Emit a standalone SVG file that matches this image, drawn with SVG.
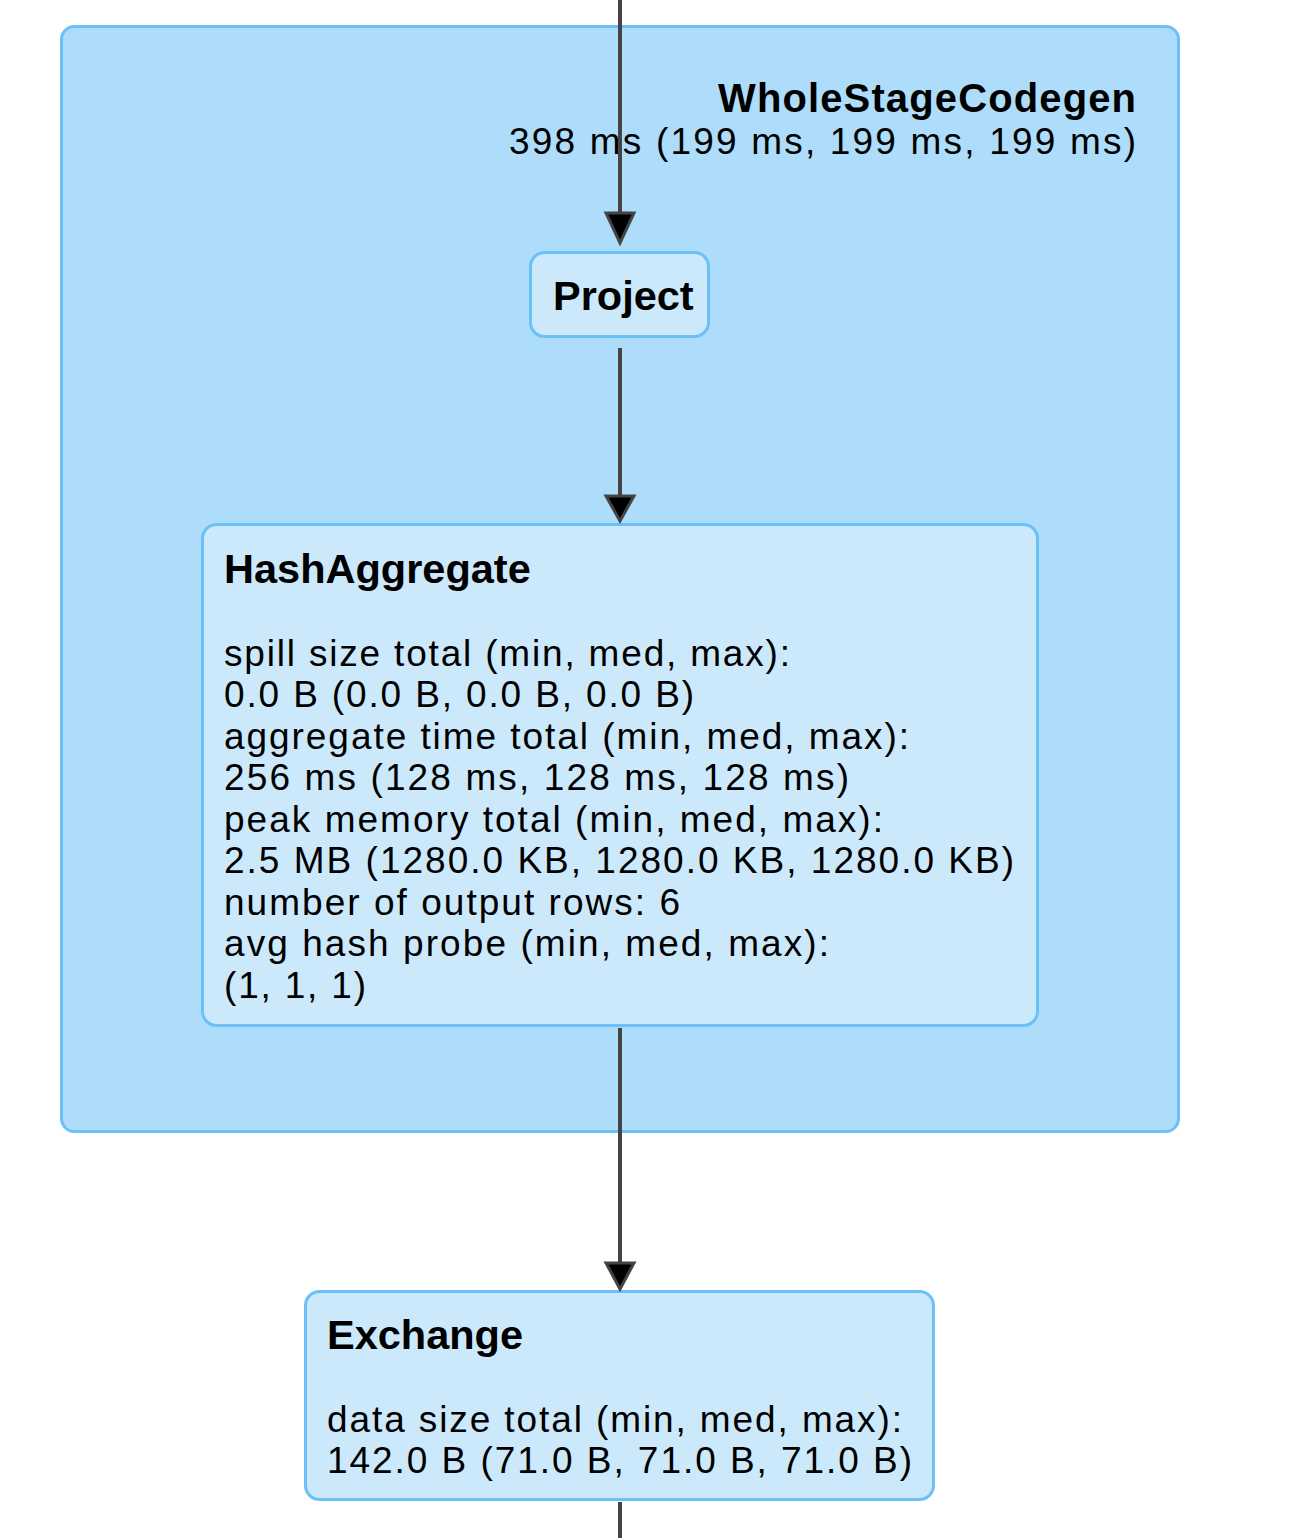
<svg xmlns="http://www.w3.org/2000/svg" width="1310" height="1538" viewBox="0 0 1310 1538">
  <style>
    .cluster { fill: #ADDDFA; stroke: #6BC1F7; stroke-width: 3; }
    .node { fill: #CCE9FC; stroke: #6BC1F7; stroke-width: 3; }
    .t { font-family: "Liberation Sans", Arial, Helvetica, sans-serif; font-size: 37px; fill: #000; }
    .b { font-weight: bold; font-size: 41.5px; }
    .edge { stroke: #444; stroke-width: 4; fill: none; }
    .head { fill: #000; stroke: #444; stroke-width: 3; stroke-linejoin: miter; }
  </style>
  <rect width="1310" height="1538" fill="#FFFFFF"/>
  <g id="cluster-wholestagecodegen">
    <rect class="cluster" x="61.5" y="26.5" width="1117" height="1105" rx="13" ry="13"/>
    <text class="t b" x="1136" y="112" text-anchor="end" style="font-size:40px" textLength="418" lengthAdjust="spacing">WholeStageCodegen</text>
    <text class="t" x="1136" y="154" text-anchor="end" textLength="627" lengthAdjust="spacing">398 ms (199 ms, 199 ms, 199 ms)</text>
  </g>
  <g id="node-project">
    <rect class="node" x="530.5" y="252.5" width="178" height="84" rx="14" ry="14"/>
    <text class="t b" x="553" y="310">Project</text>
  </g>
  <g id="node-hashaggregate">
    <rect class="node" x="202.5" y="524.5" width="835" height="501" rx="14" ry="14"/>
    <text class="t b" x="224" y="583">HashAggregate</text>
    <text class="t" x="224" y="666" textLength="566" lengthAdjust="spacing">spill size total (min, med, max):</text>
    <text class="t" x="224" y="707" textLength="470" lengthAdjust="spacing">0.0 B (0.0 B, 0.0 B, 0.0 B)</text>
    <text class="t" x="224" y="749" textLength="685" lengthAdjust="spacing">aggregate time total (min, med, max):</text>
    <text class="t" x="224" y="790" textLength="625" lengthAdjust="spacing">256 ms (128 ms, 128 ms, 128 ms)</text>
    <text class="t" x="224" y="832" textLength="659" lengthAdjust="spacing">peak memory total (min, med, max):</text>
    <text class="t" x="224" y="873" textLength="790" lengthAdjust="spacing">2.5 MB (1280.0 KB, 1280.0 KB, 1280.0 KB)</text>
    <text class="t" x="224" y="915" textLength="456" lengthAdjust="spacing">number of output rows: 6</text>
    <text class="t" x="224" y="956" textLength="605" lengthAdjust="spacing">avg hash probe (min, med, max):</text>
    <text class="t" x="224" y="998" textLength="142" lengthAdjust="spacing">(1, 1, 1)</text>
  </g>
  <g id="node-exchange">
    <rect class="node" x="305.5" y="1291.5" width="628" height="208" rx="14" ry="14"/>
    <text class="t b" x="327" y="1349">Exchange</text>
    <text class="t" x="327" y="1432" textLength="575" lengthAdjust="spacing">data size total (min, med, max):</text>
    <text class="t" x="327" y="1473" textLength="585" lengthAdjust="spacing">142.0 B (71.0 B, 71.0 B, 71.0 B)</text>
  </g>
  <g id="connectors">
    <line class="edge" x1="620" y1="0" x2="620" y2="214"/>
    <polygon class="head" points="606,213 634,213 620,243"/>
    <line class="edge" x1="620" y1="348" x2="620" y2="497"/>
    <polygon class="head" points="606,496 634,496 620,521"/>
    <line class="edge" x1="620" y1="1028" x2="620" y2="1264"/>
    <polygon class="head" points="606,1263 634,1263 620,1289"/>
    <line class="edge" x1="620" y1="1502" x2="620" y2="1538"/>
  </g>
</svg>
